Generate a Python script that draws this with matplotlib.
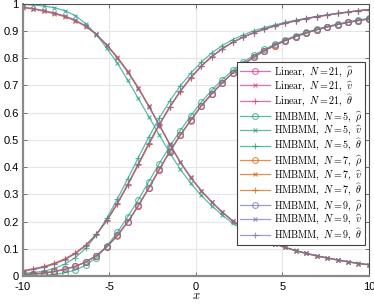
import matplotlib
matplotlib.use("Agg")
import matplotlib.pyplot as plt

plt.rcParams['font.family'] = ['Liberation Sans', 'DejaVu Sans']
plt.rcParams['mathtext.fontset'] = 'cm'
plt.rcParams['axes.unicode_minus'] = False

# sample points
x = [-10.000, -9.394, -8.788, -8.182, -7.576, -6.970, -6.364, -5.758, -5.152, -4.545,
     -3.939, -3.333, -2.727, -2.121, -1.515, -0.909, -0.303, 0.303, 0.909, 1.515,
     2.121, 2.727, 3.333, 3.939, 4.545, 5.152, 5.758, 6.364, 6.970, 7.576,
     8.182, 8.788, 9.394, 10.000]

# rho hat
rho_lin = [0.006, 0.008, 0.011, 0.017, 0.025, 0.036, 0.052, 0.075, 0.107, 0.149,
           0.199, 0.258, 0.323, 0.391, 0.457, 0.517, 0.572, 0.624, 0.669, 0.709,
           0.745, 0.776, 0.803, 0.826, 0.846, 0.864, 0.879, 0.892, 0.904, 0.914,
           0.923, 0.931, 0.938, 0.944]
rho_n5 = [0.001, 0.002, 0.003, 0.006, 0.012, 0.022, 0.040, 0.068, 0.110, 0.160,
          0.218, 0.280, 0.347, 0.413, 0.476, 0.534, 0.588, 0.638, 0.682, 0.721,
          0.755, 0.785, 0.810, 0.832, 0.851, 0.867, 0.882, 0.895, 0.906, 0.916,
          0.925, 0.933, 0.940, 0.946]
rho_n7 = [0.006, 0.008, 0.012, 0.017, 0.025, 0.036, 0.052, 0.075, 0.107, 0.148,
          0.198, 0.257, 0.322, 0.390, 0.456, 0.516, 0.571, 0.623, 0.668, 0.709,
          0.745, 0.776, 0.803, 0.826, 0.846, 0.864, 0.879, 0.892, 0.904, 0.914,
          0.923, 0.931, 0.938, 0.944]
rho_n9 = [0.005, 0.007, 0.010, 0.016, 0.024, 0.035, 0.051, 0.075, 0.108, 0.150,
          0.200, 0.260, 0.325, 0.392, 0.458, 0.518, 0.573, 0.625, 0.670, 0.710,
          0.746, 0.777, 0.804, 0.827, 0.847, 0.864, 0.879, 0.892, 0.904, 0.914,
          0.923, 0.931, 0.938, 0.944]

# v hat
v_lin = [0.986, 0.981, 0.973, 0.964, 0.953, 0.938, 0.917, 0.887, 0.848, 0.802,
         0.750, 0.690, 0.624, 0.554, 0.484, 0.418, 0.362, 0.313, 0.272, 0.235,
         0.203, 0.176, 0.154, 0.135, 0.119, 0.105, 0.093, 0.083, 0.074, 0.066,
         0.059, 0.052, 0.046, 0.041]
v_n5 = [0.997, 0.995, 0.991, 0.985, 0.974, 0.956, 0.926, 0.886, 0.836, 0.782,
        0.718, 0.652, 0.585, 0.518, 0.452, 0.392, 0.340, 0.296, 0.258, 0.224,
        0.194, 0.170, 0.150, 0.133, 0.118, 0.105, 0.094, 0.084, 0.075, 0.067,
        0.060, 0.053, 0.047, 0.042]
v_n7 = [0.985, 0.980, 0.972, 0.963, 0.952, 0.937, 0.916, 0.887, 0.849, 0.804,
        0.752, 0.692, 0.625, 0.555, 0.484, 0.418, 0.361, 0.313, 0.271, 0.234,
        0.202, 0.176, 0.154, 0.135, 0.119, 0.105, 0.093, 0.083, 0.074, 0.066,
        0.059, 0.052, 0.046, 0.041]
v_n9 = [0.988, 0.982, 0.975, 0.966, 0.955, 0.940, 0.918, 0.887, 0.847, 0.800,
        0.748, 0.688, 0.622, 0.553, 0.483, 0.418, 0.362, 0.314, 0.272, 0.235,
        0.203, 0.176, 0.154, 0.135, 0.119, 0.105, 0.093, 0.083, 0.074, 0.066,
        0.059, 0.052, 0.046, 0.041]

# theta hat
th_lin = [0.019, 0.026, 0.034, 0.046, 0.062, 0.084, 0.113, 0.153, 0.204, 0.266,
          0.336, 0.410, 0.485, 0.556, 0.620, 0.678, 0.728, 0.770, 0.805, 0.834,
          0.858, 0.877, 0.893, 0.906, 0.918, 0.928, 0.937, 0.945, 0.952, 0.958,
          0.964, 0.969, 0.974, 0.978]
th_n5 = [0.010, 0.013, 0.018, 0.028, 0.044, 0.068, 0.102, 0.150, 0.212, 0.283,
         0.358, 0.435, 0.510, 0.580, 0.643, 0.698, 0.745, 0.785, 0.819, 0.846,
         0.868, 0.885, 0.900, 0.912, 0.922, 0.931, 0.939, 0.946, 0.953, 0.959,
         0.964, 0.969, 0.974, 0.978]
th_n7 = [0.020, 0.027, 0.035, 0.047, 0.063, 0.085, 0.114, 0.153, 0.203, 0.265,
         0.334, 0.408, 0.483, 0.554, 0.619, 0.677, 0.727, 0.770, 0.805, 0.834,
         0.858, 0.877, 0.893, 0.906, 0.918, 0.928, 0.937, 0.945, 0.952, 0.958,
         0.964, 0.969, 0.974, 0.978]
th_n9 = [0.018, 0.024, 0.032, 0.044, 0.060, 0.082, 0.112, 0.153, 0.205, 0.268,
         0.338, 0.413, 0.488, 0.558, 0.622, 0.680, 0.729, 0.771, 0.806, 0.835,
         0.858, 0.877, 0.893, 0.906, 0.918, 0.928, 0.937, 0.945, 0.952, 0.958,
         0.964, 0.969, 0.974, 0.978]

groups = [
    (r'\mathrm{Linear},\ N=21', '#e7298a', rho_lin, v_lin, th_lin),
    (r'\mathrm{HMBMM},\ N=5', '#1b9e77', rho_n5, v_n5, th_n5),
    (r'\mathrm{HMBMM},\ N=7', '#d95f02', rho_n7, v_n7, th_n7),
    (r'\mathrm{HMBMM},\ N=9', '#7570b3', rho_n9, v_n9, th_n9),
]

fig = plt.figure(figsize=(3.74, 3.04), dpi=100)
ax = fig.add_axes([0.0615, 0.092, 0.925, 0.896])

for name, col, rho, v, th in groups:
    ax.plot(x, rho, color=col, alpha=0.7, lw=0.9, marker='o', ms=4.2, mfc='none',
            mew=0.8, label=r'$' + name + r',\ \widehat{\rho}$')
    ax.plot(x, v, color=col, alpha=0.7, lw=0.9, marker='x', ms=3.5,
            mew=0.8, label=r'$' + name + r',\ \widehat{v}$')
    ax.plot(x, th, color=col, alpha=0.7, lw=0.9, marker='+', ms=4.5,
            mew=0.8, label=r'$' + name + r',\ \widehat{\theta}$')

ax.set_xlim(-10, 10)
ax.set_ylim(0, 1)
ax.set_xticks([-10, -5, 0, 5, 10])
ax.set_yticks([i / 10 for i in range(11)])
ax.set_yticklabels(['0', '0.1', '0.2', '0.3', '0.4', '0.5', '0.6', '0.7', '0.8', '0.9', '1'])
ax.grid(True, color='#e6e6e6', lw=0.8)
ax.set_axisbelow(True)
ax.tick_params(direction='in', length=3, width=0.6, color='#606060', labelsize=8,
               top=True, right=True)
ax.tick_params(axis='x', pad=4)
ax.tick_params(axis='y', pad=3)
ax.set_xlabel('$x$', fontsize=9, labelpad=-1)

for s in ['left', 'bottom']:
    ax.spines[s].set_color('#8a8a8a')
    ax.spines[s].set_linewidth(1.6)
for s in ['top', 'right']:
    ax.spines[s].set_color('#505050')
    ax.spines[s].set_linewidth(0.8)

leg = ax.legend(loc='upper right', bbox_to_anchor=(0.988, 0.786), borderaxespad=0,
                fontsize=7.2, labelspacing=0.02, handlelength=3.0, handletextpad=0.4,
                borderpad=0.25, fancybox=False, framealpha=1, edgecolor='#404040')
leg.get_frame().set_linewidth(0.8)

fig.savefig('out.png', dpi=100)
